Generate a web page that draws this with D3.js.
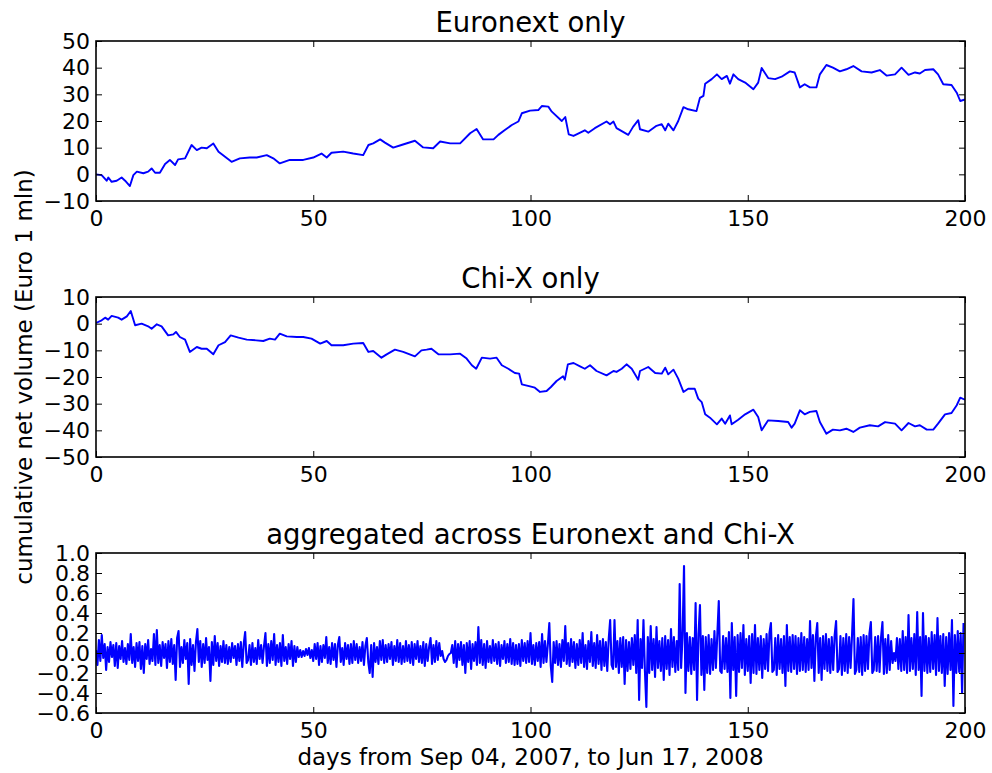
<!DOCTYPE html>
<html><head><meta charset="utf-8">
<script src="https://cdn.jsdelivr.net/npm/d3@7"></script>
<style>
body{margin:0;background:#fff}
svg{display:block}
text{font-family:"DejaVu Sans",sans-serif;fill:#000}
</style>
</head><body>
<svg id="chart" width="992" height="773"></svg>
<script>
// ---------------- data ----------------
const titles = ["Euronext only", "Chi-X only", "aggregated across Euronext and Chi-X"];
const yLabel = "cumulative net volume (Euro 1 mln)";
const xLabel = "days from Sep 04, 2007, to Jun 17, 2008";
const xTicks = [0, 50, 100, 150, 200];
const xTickLabels = ["0", "50", "100", "150", "200"];

const euronextDays = [0,1.3,2.45,2.84,3.6,4.76,5.9,6.7,7.8,8.6,9.4,10.9,12.0,12.8,13.6,14.7,15.9,17.0,18.2,18.9,20.5,22.0,23.2,24.3,25.5,27.0,28.2,29.7,31.2,33.1,35.4,37.0,39.3,40.8,42.3,44.6,47.7,50.0,51.9,53.1,54.2,56.9,59.2,61.5,62.7,63.8,65.4,66.5,68.4,70.3,73.4,75.3,77.6,79.2,81.5,83.8,86.1,87.6,89.1,91.5,92.6,94.1,95.7,97.2,98.0,99.9,101.8,102.6,104.1,104.9,107.2,108.0,108.8,109.9,112.5,113.3,114.8,117.5,118.3,119.1,119.8,122.5,123.6,124.8,125.2,127.1,129.0,130.2,131.0,131.7,132.9,134.0,135.2,136.3,138.2,139.0,139.8,140.2,141.7,142.9,144.0,145.2,145.9,146.7,147.8,149.4,151.3,152.4,153.2,154.7,156.3,157.8,159.7,160.8,162.0,163.1,164.3,165.8,166.6,168.1,169.6,171.2,172.7,174.3,176.2,178.5,180.4,182.0,183.9,185.4,187.0,188.5,189.6,190.8,192.7,193.8,195.0,196.9,198.1,198.9,200];
const euronextValues = [0,-0.3,-2.4,-1.2,-2.8,-2.4,-1.2,-2.4,-4.4,-0.3,1.0,0.4,1.0,2.2,0.6,0.6,3.9,5.4,3.5,5.6,6.0,11.0,9.1,10.0,9.8,11.6,8.5,6.6,4.7,6.0,6.3,6.3,7.2,6.0,4.1,5.4,5.4,6.3,7.8,6.3,8.1,8.5,7.8,7.2,11.0,11.6,13.1,11.9,10.0,11.0,12.6,10.1,9.8,12.3,11.6,11.6,15.4,17.0,13.1,13.1,14.8,16.6,18.5,19.8,22.9,23.9,24.1,25.6,25.4,23.5,20.0,21.5,15.0,14.4,16.5,15.6,17.3,19.8,18.8,19.8,17.3,14.8,17.8,20.3,16.9,16.0,18.2,18.8,16.5,19.0,16.5,20.0,25.2,24.4,23.7,28.7,29.4,34.0,35.7,37.5,35.7,36.9,34.0,37.5,35.7,34.4,31.9,34.4,39.9,36.1,35.7,36.6,38.6,38.2,32.6,33.8,32.6,32.6,37.5,41.0,40.0,38.6,39.4,40.6,38.6,38.2,39.1,37.0,37.5,40.0,37.3,38.2,37.8,39.1,39.4,37.5,33.8,33.5,30.6,27.5,28.1];

const chixDays = [0,1.3,2.1,2.8,3.6,5.1,5.9,7.1,8.0,9.0,10.5,12.0,12.8,14.0,15.1,16.6,17.8,18.4,19.3,20.5,21.6,23.2,24.3,25.5,27.0,28.2,29.7,31.0,32.8,34.7,36.9,38.5,40.0,41.2,42.3,43.9,46.2,47.7,49.6,51.6,53.1,54.2,56.9,59.2,61.5,62.7,63.8,65.7,66.9,68.8,70.7,73.4,74.9,76.1,77.2,78.8,81.5,83.8,85.3,86.5,87.5,88.8,90.7,92.2,93.4,94.9,96.4,97.4,98.0,99.9,101.0,102.2,103.7,104.7,106.0,107.5,107.9,108.6,109.9,111.4,112.5,113.7,115.2,117.5,119.1,119.8,121.0,122.1,123.3,124.8,125.2,127.1,128.7,130.2,131.0,131.7,132.9,134.0,135.2,136.3,137.8,138.6,139.4,140.2,141.3,142.9,144.0,144.8,145.9,146.3,147.8,149.4,151.3,152.4,153.2,154.7,157.0,159.3,160.1,160.8,162.0,163.1,164.3,165.8,166.6,168.1,169.6,171.2,172.7,174.3,175.8,178.1,180.0,181.6,183.9,185.4,187.0,188.5,189.6,191.2,192.7,193.8,195.4,196.9,198.1,198.9,200];
const chixValues = [0.25,1.25,2.25,1.5,2.9,2.25,1.5,2.75,4.75,-0.6,0,-1.0,-1.9,-0.25,-1.0,-4.4,-4.0,-3.1,-5.0,-6.0,-10.6,-8.75,-9.4,-9.4,-11.5,-8.1,-6.9,-4.4,-5.25,-6.0,-6.25,-6.5,-5.6,-6.0,-3.75,-4.75,-5.0,-5.0,-5.6,-7.5,-6.5,-8.1,-8.1,-7.5,-7.25,-10.6,-10.25,-12.75,-11.5,-9.75,-10.6,-12.25,-10.0,-9.75,-9.4,-11.5,-11.5,-11.25,-13.1,-15.6,-16.9,-12.75,-13.1,-12.75,-15.6,-16.9,-18.5,-18.75,-22.75,-23.5,-24.0,-25.6,-25.25,-23.75,-21.5,-19.75,-21.0,-15.25,-14.75,-16.0,-16.9,-15.6,-17.75,-19.4,-17.75,-18.1,-16.9,-15.25,-16.9,-21.0,-17.75,-16.25,-18.5,-18.75,-16.5,-19.0,-17.25,-20.6,-25.6,-24.4,-24.4,-28.1,-29.4,-34.0,-35.25,-37.75,-35.6,-37.5,-34.4,-37.75,-36.0,-34.0,-32.25,-35.0,-40.0,-36.25,-36.5,-36.9,-39.0,-37.5,-32.5,-34.0,-33.1,-32.75,-36.9,-41.25,-39.75,-40.0,-39.4,-40.6,-39.0,-38.1,-38.5,-36.9,-37.5,-40.0,-37.25,-38.5,-38.1,-39.75,-39.75,-37.5,-34.0,-33.5,-30.6,-27.75,-28.5];

// aggregated series, in hundredths of Euro 1 mln, three samples per day
const aggSamplesPerDay = 3;
const aggregatedHundredths = [
3,-12,13,-8,18,-5,9,-17,6,-9,11,-4,8,-13,10,-15,7,-6,12,-9,5,-11,9,-7,19,-10,6,-14,10,-8,
11,-16,7,-20,9,-6,13,-11,4,-8,19,-12,23,-10,8,-13,11,-5,9,-15,12,-9,14,-11,8,-27,15,22,-14,6,
-10,13,-6,10,-31,14,-12,8,-18,11,24,-9,12,-14,9,-10,15,-7,6,-28,11,-12,17,-8,10,-13,7,-9,12,-10,
8,-11,6,-9,10,-5,7,-12,9,-8,11,-14,9,21,-10,-7,8,-12,10,-9,5,-11,13,-6,8,-10,7,20,-13,9,
-10,12,-7,19,-12,8,-9,10,-13,18,-8,6,-11,9,-6,12,-13,7,-9,6,-4,3,-4,2,-3,4,-2,5,-5,3,
-8,9,-6,10,-12,7,-9,8,-5,16,-10,6,-11,10,-7,9,-14,8,16,-9,5,-12,10,-6,8,-11,9,-10,12,-7,
9,-10,6,-8,11,-12,7,15,-9,-20,8,-24,10,-9,6,-11,12,-7,13,-10,8,-9,9,-6,11,-12,7,-8,13,-9,
10,-11,7,-9,12,-8,8,-10,11,-12,9,-6,12,-9,7,-10,11,-13,9,-8,6,15,-11,8,-9,12,-7,10,-3,2,
-6,-9,-7,-3,-1,0,8,-10,12,-14,9,-7,11,-12,8,-20,10,-9,12,-16,9,-8,11,-12,26,-10,13,-12,9,-15,
12,-9,7,-10,13,-8,9,-11,11,-13,8,-6,12,-10,9,-9,14,-11,10,-12,8,-11,9,-13,13,-8,10,-10,12,-9,
20,-11,8,-12,10,-8,11,-14,19,-10,12,-9,9,30,-13,-29,11,-10,12,-12,9,-14,13,-8,27,-11,10,-13,14,-9,
11,-15,9,-12,13,-10,20,-14,8,-16,12,-9,21,-13,10,-15,18,-11,12,-17,14,-13,11,-18,14,33,-12,-16,33,-14,
12,-20,15,-14,16,-31,13,-18,11,-16,15,-12,18,-20,33,-47,14,-15,33,-18,-54,16,-20,27,-17,14,-24,26,-15,12,
-18,15,-27,17,-16,13,-22,24,-14,16,-19,12,-17,69,-15,18,87,-40,20,-18,16,-21,15,-17,50,-47,19,48,-22,17,
-37,16,-20,18,-21,14,-17,22,-15,19,52,-18,-20,17,-16,15,-19,21,-45,30,-17,16,-43,18,-19,20,-15,28,-22,14,
-18,17,-30,19,-20,28,-21,15,-17,17,-25,14,-16,19,-18,20,30,-19,-17,15,-22,18,-16,14,-20,17,-33,28,-18,16,
-19,18,-16,17,-21,15,-18,20,-17,16,-19,14,-17,32,-15,18,-28,16,30,-20,15,-27,17,-16,19,-18,14,-20,16,-17,
18,32,-19,-16,17,-22,15,-18,19,-20,16,-15,18,54,-21,-17,15,-19,16,-22,18,-18,17,-16,19,31,-20,-17,16,-18,
17,-19,15,31,-21,14,-20,18,-17,12,-10,0,-8,15,-16,14,-18,22,-17,16,-20,38,-18,15,-16,19,-22,41,-17,16,
-43,40,-18,17,-20,15,-19,21,-16,18,-22,35,-18,17,-20,19,-33,16,-21,20,-17,33,-53,18,-20,22,-19,20,-40,30
];

const euroTicks = [-10, 0, 10, 20, 30, 40, 50];
const euroTickLabels = ["\u221210", "0", "10", "20", "30", "40", "50"];
const chixTicks = [-50, -40, -30, -20, -10, 0, 10];
const chixTickLabels = ["\u221250", "\u221240", "\u221230", "\u221220", "\u221210", "0", "10"];
const aggTicks = [-0.6, -0.4, -0.2, 0.0, 0.2, 0.4, 0.6, 0.8, 1.0];
const aggTickLabels = ["\u22120.6", "\u22120.4", "\u22120.2", "0.0", "0.2", "0.4", "0.6", "0.8", "1.0"];

// ---------------- drawing ----------------
const svg = d3.select("#chart");
const L = 96, R = 965, H = 160;
const tops = [41, 297, 553];
const tickFont = 22, titleFont = 27.5, labelFont = 23;
const x = d3.scaleLinear().domain([0, 200]).range([L, R]);

const aggPoints = aggregatedHundredths.map((v, i) => [i / aggSamplesPerDay, v / 100]);

const panels = [
  {title: titles[0], top: tops[0], pts: euronextDays.map((d, i) => [d, euronextValues[i]]), domain: [-10, 50], ticks: euroTicks, labels: euroTickLabels, lw: 1.9},
  {title: titles[1], top: tops[1], pts: chixDays.map((d, i) => [d, chixValues[i]]), domain: [-50, 10], ticks: chixTicks, labels: chixTickLabels, lw: 1.9},
  {title: titles[2], top: tops[2], pts: aggPoints, domain: [-0.6, 1.0], ticks: aggTicks, labels: aggTickLabels, lw: 2.1}
];

function styleAxis(g, withText) {
  g.select(".domain").remove();
  g.selectAll(".tick line").attr("stroke", "#000").attr("stroke-width", 1);
  g.attr("font-family", null).attr("font-size", null);
  if (withText) g.selectAll(".tick text").attr("font-size", tickFont).attr("fill", "#000").style("font-family", '"DejaVu Sans",sans-serif');
  else g.selectAll(".tick text").remove();
}

panels.forEach(p => {
  const y = d3.scaleLinear().domain(p.domain).range([p.top + H, p.top]);
  const clipId = "clip" + p.top;
  svg.append("clipPath").attr("id", clipId).append("rect")
    .attr("x", L).attr("y", p.top).attr("width", R - L).attr("height", H);

  const line = d3.line().x(d => x(d[0])).y(d => y(d[1]));
  svg.append("path").datum(p.pts)
    .attr("clip-path", `url(#${clipId})`)
    .attr("fill", "none").attr("stroke", "#0000ff")
    .attr("stroke-width", p.lw).attr("stroke-linejoin", "round")
    .attr("d", line);

  const fmtY = d => p.labels[p.ticks.indexOf(d)];
  const fmtX = d => xTickLabels[xTicks.indexOf(d)];

  svg.append("g").attr("transform", `translate(${L},0)`)
    .call(d3.axisLeft(y).tickValues(p.ticks).tickFormat(fmtY).tickSize(-6).tickPadding(6))
    .call(g => styleAxis(g, true));
  svg.append("g").attr("transform", `translate(${R},0)`)
    .call(d3.axisRight(y).tickValues(p.ticks).tickSize(-6))
    .call(g => styleAxis(g, false));
  svg.append("g").attr("transform", `translate(0,${p.top + H})`)
    .call(d3.axisBottom(x).tickValues(xTicks).tickFormat(fmtX).tickSize(-6).tickPadding(9))
    .call(g => styleAxis(g, true));
  svg.append("g").attr("transform", `translate(0,${p.top})`)
    .call(d3.axisTop(x).tickValues(xTicks).tickSize(-6))
    .call(g => styleAxis(g, false));

  svg.append("rect").attr("x", L).attr("y", p.top).attr("width", R - L).attr("height", H)
    .attr("fill", "none").attr("stroke", "#000").attr("stroke-width", 1.6);

  svg.append("text").attr("x", (L + R) / 2).attr("y", p.top - 9)
    .attr("text-anchor", "middle").attr("font-size", titleFont).text(p.title);
});

svg.append("text").attr("x", (L + R) / 2).attr("y", 765)
  .attr("text-anchor", "middle").attr("font-size", labelFont).text(xLabel);

svg.append("text").attr("transform", "translate(32,377) rotate(-90)")
  .attr("text-anchor", "middle").attr("font-size", labelFont).text(yLabel);
</script>
</body></html>
